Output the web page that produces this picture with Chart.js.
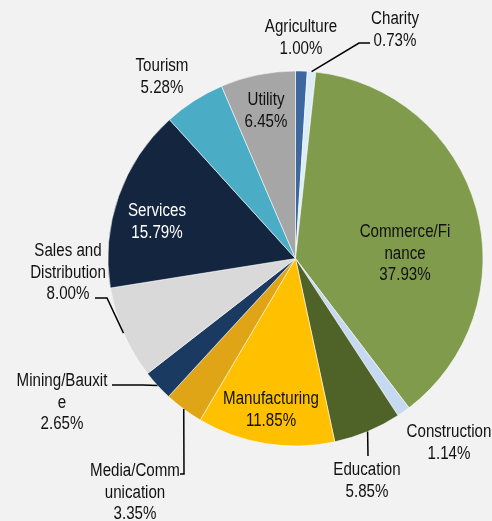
<!DOCTYPE html>
<html lang="en">
<head>
<meta charset="UTF-8">
<title>Sector breakdown</title>
<script src="https://cdn.jsdelivr.net/npm/chart.js"></script>
<style>
  body { margin: 0; background: #f2f2f2; }
  canvas { display: block; }
</style>
</head>
<body>
<canvas id="sectorPie" width="492" height="521"></canvas>
<script>
// slice names, already broken where the label wraps
const sectors = [
  ['Agriculture'], ['Charity'], ['Commerce/Fi', 'nance'], ['Construction'],
  ['Education'], ['Manufacturing'], ['Media/Comm', 'unication'], ['Mining/Bauxit', 'e'],
  ['Sales and', 'Distribution'], ['Services'], ['Tourism'], ['Utility']
];
const shares = [1.00, 0.73, 37.93, 1.14, 5.85, 11.85, 3.35, 2.65, 8.00, 15.79, 5.28, 6.45];

const sliceColors = [
  '#3d689f', '#dbeef7', '#7f9b4b', '#c5d9f1', '#4f6228', '#ffc000',
  '#dfa516', '#1a3a62', '#d9d9d9', '#14253f', '#4bacc6', '#a6a6a6'
];
const textColors = [
  '#111', '#111', '#111', '#111', '#111', '#111',
  '#111', '#111', '#111', '#ffffff', '#111', '#111'
];

// label centre x, first baseline y, and bends of the leader line (starts at the slice edge)
const labelSpots = [
  { x: 301, y: 32 },
  { x: 395, y: 24, leader: [[359, 43], [370, 43]] },
  { x: 405, y: 237 },
  { x: 449, y: 437 },
  { x: 367, y: 475, leader: [[368, 456]] },
  { x: 271, y: 404 },
  { x: 135, y: 476, leader: [[184, 474], [180, 474]] },
  { x: 62, y: 386, leader: [[143, 385], [112, 385]] },
  { x: 68, y: 256, leader: [[107, 298], [95, 298]] },
  { x: 157, y: 216 },
  { x: 162, y: 71 },
  { x: 266, y: 105 }
];

const backdrop = {
  id: 'backdrop',
  beforeDraw(chart) {
    const c = chart.ctx;
    c.save();
    c.fillStyle = '#f2f2f2';
    c.fillRect(0, 0, chart.width, chart.height);
    c.restore();
  }
};

const sliceLabels = {
  id: 'sliceLabels',
  afterDatasetsDraw(chart) {
    const c = chart.ctx;
    const arcs = chart.getDatasetMeta(0).data;
    c.save();
    arcs.forEach((arc, i) => {
      const spot = labelSpots[i];
      if (spot.leader) {
        const mid = (arc.startAngle + arc.endAngle) / 2;
        c.beginPath();
        c.moveTo(arc.x + arc.outerRadius * Math.cos(mid), arc.y + arc.outerRadius * Math.sin(mid));
        spot.leader.forEach(p => c.lineTo(p[0], p[1]));
        c.strokeStyle = '#000';
        c.lineWidth = 1.5;
        c.stroke();
      }
      const lines = sectors[i].concat([shares[i].toFixed(2) + '%']);
      c.fillStyle = textColors[i];
      c.font = '18px "Liberation Sans", Arial, sans-serif';
      c.textAlign = 'center';
      c.textBaseline = 'alphabetic';
      lines.forEach((t, k) => {
        c.save();
        c.translate(spot.x, spot.y + k * 21.5);
        c.scale(0.84, 1);
        c.fillText(t, 0, 0);
        c.restore();
      });
    });
    c.restore();
  }
};

new Chart(document.getElementById('sectorPie'), {
  type: 'pie',
  data: {
    labels: sectors.map(s => s.join('')),
    datasets: [{
      data: shares,
      backgroundColor: sliceColors,
      borderColor: 'rgba(255,255,255,0.55)',
      borderWidth: 1
    }]
  },
  options: {
    responsive: false,
    animation: false,
    layout: { padding: { left: 107.5, right: 8.5, top: 70.5, bottom: 74.5 } },
    plugins: {
      legend: { display: false },
      tooltip: { enabled: false }
    }
  },
  plugins: [backdrop, sliceLabels]
});
</script>
</body>
</html>
